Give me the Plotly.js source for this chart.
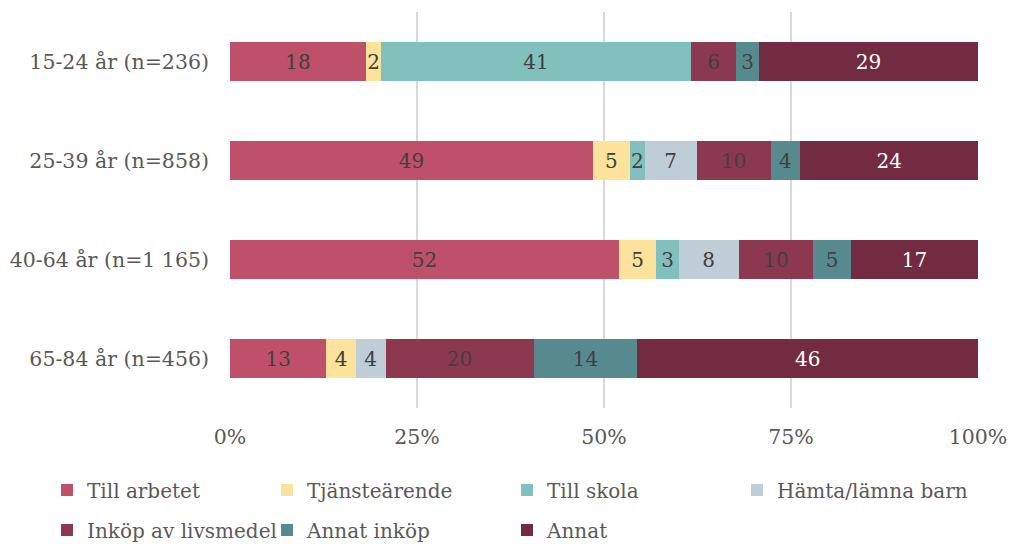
<!DOCTYPE html>
<html>
<head>
<meta charset="utf-8">
<script src="https://cdn.plot.ly/plotly-3.0.1.min.js"></script>
<style>html,body{margin:0;padding:0;background:#fff;}#chart{width:1011px;height:544px;}</style>
</head>
<body>
<div id="chart"></div>
<script>
const categories = ["15-24 år (n=236)", "25-39 år (n=858)", "40-64 år (n=1 165)", "65-84 år (n=456)"];
const seriesNames = ["Till arbetet", "Tjänsteärende", "Till skola", "Hämta/lämna barn", "Inköp av livsmedel", "Annat inköp", "Annat"];
const tillArbetet = [18, 49, 52, 13];
const tjansteArende = [2, 5, 5, 4];
const tillSkola = [41, 2, 3, 0];
const hamtaLamnaBarn = [0, 7, 8, 4];
const inkopLivsmedel = [6, 10, 10, 20];
const annatInkop = [3, 4, 5, 14];
const annat = [29, 24, 17, 46];
const xTickVals = [0, 25, 50, 75, 100];
const xTickText = ["0%", "25%", "50%", "75%", "100%"];

const seriesValues = [tillArbetet, tjansteArende, tillSkola, hamtaLamnaBarn, inkopLivsmedel, annatInkop, annat];
const colors = ["#BE506A", "#FCE29A", "#82C0BE", "#BFCDD6", "#8B3850", "#568A8F", "#722B40"];
const textColors = ["#404040", "#404040", "#404040", "#404040", "#404040", "#404040", "#FFFFFF"];
const FONT = "DejaVu Serif, Georgia, serif";

// legend placement (pixels): one legend per entry
const legendX = [47, 267, 507, 737, 47, 267, 507];
const legendY = [490, 490, 490, 490, 530, 530, 530];

const legendId = i => (i === 0 ? "legend" : "legend" + (i + 1));

const traces = seriesValues.map((vals, i) => ({
  type: "bar",
  orientation: "h",
  name: seriesNames[i],
  legend: legendId(i),
  y: categories,
  x: vals,
  text: vals.map(v => v ? String(v) : ""),
  textposition: "inside",
  insidetextanchor: "middle",
  textangle: 0,
  constraintext: "none",
  textfont: {family: FONT, size: 20, color: textColors[i]},
  marker: {color: colors[i], line: {width: 0}},
  hoverinfo: "name+x"
}));

const layout = {
  width: 1011, height: 544,
  margin: {l: 230, r: 33, t: 12, b: 136, autoexpand: false},
  barmode: "stack",
  barnorm: "percent",
  bargap: 0.6,
  paper_bgcolor: "#fff",
  plot_bgcolor: "#fff",
  font: {family: FONT, color: "#595959", size: 20},
  xaxis: {
    range: [0, 100],
    tickvals: xTickVals,
    ticktext: xTickText,
    showgrid: true,
    gridcolor: "#D9D9D9",
    gridwidth: 2,
    zeroline: false,
    showline: false,
    ticks: "",
    ticklabelstandoff: 14,
    tickfont: {family: FONT, size: 20.5, color: "#595959"},
    fixedrange: true
  },
  yaxis: {
    autorange: "reversed",
    showgrid: false,
    zeroline: false,
    ticks: "",
    ticklabelstandoff: 20,
    tickfont: {family: FONT, size: 20.5, color: "#595959"},
    fixedrange: true
  },
  showlegend: true
};

seriesNames.forEach((n, i) => {
  layout[legendId(i)] = {
    orientation: "h",
    xref: "container", yref: "container",
    x: legendX[i] / 1011, xanchor: "left",
    y: (544 - legendY[i]) / 544, yanchor: "middle",
    font: {family: FONT, size: 20, color: "#595959"},
    itemclick: false, itemdoubleclick: false,
    bgcolor: "rgba(0,0,0,0)"
  };
});

Plotly.newPlot("chart", traces, layout, {displayModeBar: false, staticPlot: true});
</script>
</body>
</html>
